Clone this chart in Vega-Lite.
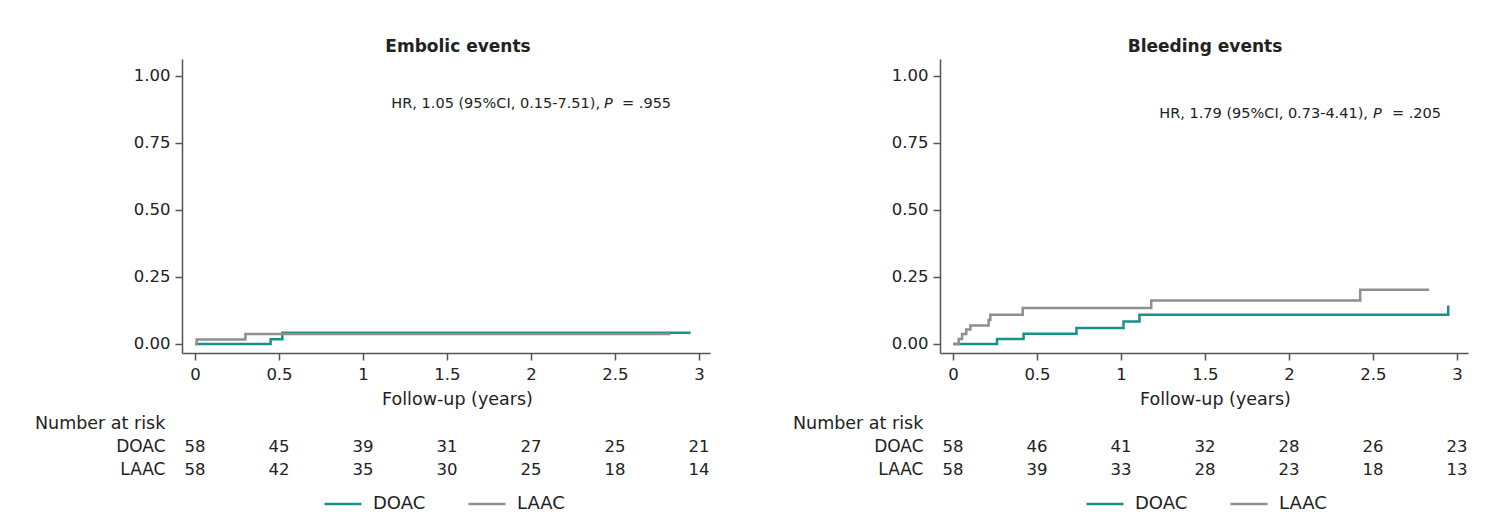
{
  "$schema": "https://vega.github.io/schema/vega-lite/v6.json",
  "padding": {"left": 35, "top": 38, "right": 5, "bottom": 0},
  "config": {
    "font": "DejaVu Sans",
    "view": {"stroke": null},
    "axis": {
      "grid": false,
      "domainColor": "#555555",
      "domainWidth": 1.5,
      "tickColor": "#555555",
      "tickWidth": 1.5,
      "tickSize": 7,
      "labelFont": "DejaVu Sans",
      "labelFontSize": 16.5,
      "labelColor": "#222222",
      "titleFont": "DejaVu Sans",
      "titleFontSize": 17.5,
      "titleFontWeight": "normal",
      "titleColor": "#222222"
    },
    "title": {"font": "DejaVu Sans", "color": "#222222"},
    "text": {"font": "DejaVu Sans", "color": "#222222"}
  },
  "datasets": {
    "km": [
      {"panel": "Embolic events", "group": "DOAC", "time": 0, "risk": 0},
      {"panel": "Embolic events", "group": "DOAC", "time": 0.45, "risk": 0.018},
      {"panel": "Embolic events", "group": "DOAC", "time": 0.52, "risk": 0.042},
      {"panel": "Embolic events", "group": "DOAC", "time": 2.95, "risk": 0.042},
      {"panel": "Embolic events", "group": "LAAC", "time": 0, "risk": 0},
      {"panel": "Embolic events", "group": "LAAC", "time": 0.01, "risk": 0.017},
      {"panel": "Embolic events", "group": "LAAC", "time": 0.3, "risk": 0.037},
      {"panel": "Embolic events", "group": "LAAC", "time": 2.83, "risk": 0.037},
      {"panel": "Bleeding events", "group": "DOAC", "time": 0, "risk": 0},
      {"panel": "Bleeding events", "group": "DOAC", "time": 0.262, "risk": 0.019},
      {"panel": "Bleeding events", "group": "DOAC", "time": 0.42, "risk": 0.038},
      {"panel": "Bleeding events", "group": "DOAC", "time": 0.735, "risk": 0.06},
      {"panel": "Bleeding events", "group": "DOAC", "time": 1.015, "risk": 0.084},
      {"panel": "Bleeding events", "group": "DOAC", "time": 1.11, "risk": 0.109},
      {"panel": "Bleeding events", "group": "DOAC", "time": 2.948, "risk": 0.144},
      {"panel": "Bleeding events", "group": "LAAC", "time": 0, "risk": 0},
      {"panel": "Bleeding events", "group": "LAAC", "time": 0.034, "risk": 0.019},
      {"panel": "Bleeding events", "group": "LAAC", "time": 0.054, "risk": 0.037},
      {"panel": "Bleeding events", "group": "LAAC", "time": 0.079, "risk": 0.054},
      {"panel": "Bleeding events", "group": "LAAC", "time": 0.103, "risk": 0.069},
      {"panel": "Bleeding events", "group": "LAAC", "time": 0.212, "risk": 0.09},
      {"panel": "Bleeding events", "group": "LAAC", "time": 0.222, "risk": 0.109},
      {"panel": "Bleeding events", "group": "LAAC", "time": 0.415, "risk": 0.134},
      {"panel": "Bleeding events", "group": "LAAC", "time": 1.18, "risk": 0.162},
      {"panel": "Bleeding events", "group": "LAAC", "time": 2.424, "risk": 0.202},
      {"panel": "Bleeding events", "group": "LAAC", "time": 2.834, "risk": 0.202}
    ],
    "atrisk": [
      {"panel": "Embolic events", "group": "DOAC", "time": 0, "n": 58},
      {"panel": "Embolic events", "group": "DOAC", "time": 0.5, "n": 45},
      {"panel": "Embolic events", "group": "DOAC", "time": 1, "n": 39},
      {"panel": "Embolic events", "group": "DOAC", "time": 1.5, "n": 31},
      {"panel": "Embolic events", "group": "DOAC", "time": 2, "n": 27},
      {"panel": "Embolic events", "group": "DOAC", "time": 2.5, "n": 25},
      {"panel": "Embolic events", "group": "DOAC", "time": 3, "n": 21},
      {"panel": "Embolic events", "group": "LAAC", "time": 0, "n": 58},
      {"panel": "Embolic events", "group": "LAAC", "time": 0.5, "n": 42},
      {"panel": "Embolic events", "group": "LAAC", "time": 1, "n": 35},
      {"panel": "Embolic events", "group": "LAAC", "time": 1.5, "n": 30},
      {"panel": "Embolic events", "group": "LAAC", "time": 2, "n": 25},
      {"panel": "Embolic events", "group": "LAAC", "time": 2.5, "n": 18},
      {"panel": "Embolic events", "group": "LAAC", "time": 3, "n": 14},
      {"panel": "Bleeding events", "group": "DOAC", "time": 0, "n": 58},
      {"panel": "Bleeding events", "group": "DOAC", "time": 0.5, "n": 46},
      {"panel": "Bleeding events", "group": "DOAC", "time": 1, "n": 41},
      {"panel": "Bleeding events", "group": "DOAC", "time": 1.5, "n": 32},
      {"panel": "Bleeding events", "group": "DOAC", "time": 2, "n": 28},
      {"panel": "Bleeding events", "group": "DOAC", "time": 2.5, "n": 26},
      {"panel": "Bleeding events", "group": "DOAC", "time": 3, "n": 23},
      {"panel": "Bleeding events", "group": "LAAC", "time": 0, "n": 58},
      {"panel": "Bleeding events", "group": "LAAC", "time": 0.5, "n": 39},
      {"panel": "Bleeding events", "group": "LAAC", "time": 1, "n": 33},
      {"panel": "Bleeding events", "group": "LAAC", "time": 1.5, "n": 28},
      {"panel": "Bleeding events", "group": "LAAC", "time": 2, "n": 23},
      {"panel": "Bleeding events", "group": "LAAC", "time": 2.5, "n": 18},
      {"panel": "Bleeding events", "group": "LAAC", "time": 3, "n": 13}
    ]
  },
  "hconcat": [
    {
      "vconcat": [
        {
          "width": 528,
          "height": 294,
          "title": {"text": "Embolic events", "fontSize": 17, "fontWeight": "bold", "anchor": "middle", "frame": "group", "dx": 12, "dy": 20, "offset": 6, "baseline": "bottom"},
          "layer": [
            {
              "data": {"name": "km"},
              "transform": [{"filter": "datum.panel === 'Embolic events'"}],
              "mark": {"type": "line", "interpolate": "step-after", "strokeWidth": 2.5},
              "encoding": {
                "x": {"field": "time", "type": "quantitative", "scale": {"domain": [-0.0774, 3.0655], "nice": false, "zero": false}, "axis": {"values": [0, 0.5, 1, 1.5, 2, 2.5, 3], "format": "~g", "title": "Follow-up (years)", "labelPadding": 6, "titlePadding": 8, "titleX": 275}},
                "y": {"field": "risk", "type": "quantitative", "scale": {"domain": [-0.0336, 1.0634], "nice": false, "zero": false}, "axis": {"values": [0, 0.25, 0.5, 0.75, 1], "format": ".2f", "title": null, "labelPadding": 5}},
                "color": {"field": "group", "type": "nominal", "scale": {"domain": ["DOAC", "LAAC"], "range": ["#17918a", "#8f8f8f"]}, "legend": {"orient": "none", "legendX": 141, "legendY": 425, "direction": "horizontal", "title": null, "symbolType": "stroke", "symbolSize": 1369, "symbolStrokeWidth": 2.5, "labelFontSize": 18, "labelFont": "DejaVu Sans", "labelColor": "#222222", "labelOffset": 10, "columnPadding": 37}}
              }
            },
            {
              "data": {"values": [{}]},
              "mark": {"type": "text", "text": "HR, 1.05 (95%CI, 0.15-7.51),", "align": "right", "baseline": "middle", "fontSize": 14.5},
              "encoding": {"x": {"datum": 2.411}, "y": {"datum": 0.8955}}
            },
            {
              "data": {"values": [{}]},
              "mark": {"type": "text", "text": "P", "align": "left", "baseline": "middle", "fontSize": 14.5, "fontStyle": "italic"},
              "encoding": {"x": {"datum": 2.435}, "y": {"datum": 0.8955}}
            },
            {
              "data": {"values": [{}]},
              "mark": {"type": "text", "text": "= .955", "align": "left", "baseline": "middle", "fontSize": 14.5},
              "encoding": {"x": {"datum": 2.542}, "y": {"datum": 0.8955}}
            }
          ]
        },
        {
          "width": 528,
          "height": 46,
          "title": {"text": "Number at risk", "fontSize": 17.5, "fontWeight": "normal", "anchor": "start", "frame": "group", "dx": -147, "dy": 19, "offset": 4, "baseline": "bottom"},
          "data": {"name": "atrisk"},
          "transform": [{"filter": "datum.panel === 'Embolic events'"}],
          "mark": {"type": "text", "fontSize": 16.5},
          "encoding": {
            "x": {"field": "time", "type": "quantitative", "scale": {"domain": [-0.0774, 3.0655], "nice": false, "zero": false}, "axis": null},
            "y": {"field": "group", "type": "nominal", "sort": ["DOAC", "LAAC"], "axis": {"title": null, "domain": false, "ticks": false, "labelPadding": 17, "labelFontSize": 17}},
            "text": {"field": "n", "type": "quantitative"}
          }
        }
      ],
      "spacing": 82,
      "bounds": "flush"
    },
    {
      "vconcat": [
        {
          "width": 528,
          "height": 294,
          "title": {"text": "Bleeding events", "fontSize": 17, "fontWeight": "bold", "anchor": "middle", "frame": "group", "dx": 1, "dy": 20, "offset": 6, "baseline": "bottom"},
          "layer": [
            {
              "data": {"name": "km"},
              "transform": [{"filter": "datum.panel === 'Bleeding events'"}],
              "mark": {"type": "line", "interpolate": "step-after", "strokeWidth": 2.5},
              "encoding": {
                "x": {"field": "time", "type": "quantitative", "scale": {"domain": [-0.0774, 3.0655], "nice": false, "zero": false}, "axis": {"values": [0, 0.5, 1, 1.5, 2, 2.5, 3], "format": "~g", "title": "Follow-up (years)", "labelPadding": 6, "titlePadding": 8, "titleX": 275}},
                "y": {"field": "risk", "type": "quantitative", "scale": {"domain": [-0.0336, 1.0634], "nice": false, "zero": false}, "axis": {"values": [0, 0.25, 0.5, 0.75, 1], "format": ".2f", "title": null, "labelPadding": 5}},
                "color": {"field": "group", "type": "nominal", "scale": {"domain": ["DOAC", "LAAC"], "range": ["#17918a", "#8f8f8f"]}, "legend": {"orient": "none", "legendX": 145, "legendY": 425, "direction": "horizontal", "title": null, "symbolType": "stroke", "symbolSize": 1369, "symbolStrokeWidth": 2.5, "labelFontSize": 18, "labelFont": "DejaVu Sans", "labelColor": "#222222", "labelOffset": 10, "columnPadding": 37}}
              }
            },
            {
              "data": {"values": [{}]},
              "mark": {"type": "text", "text": "HR, 1.79 (95%CI, 0.73-4.41),", "align": "right", "baseline": "middle", "fontSize": 14.5},
              "encoding": {"x": {"datum": 2.47}, "y": {"datum": 0.858}}
            },
            {
              "data": {"values": [{}]},
              "mark": {"type": "text", "text": "P", "align": "left", "baseline": "middle", "fontSize": 14.5, "fontStyle": "italic"},
              "encoding": {"x": {"datum": 2.5}, "y": {"datum": 0.858}}
            },
            {
              "data": {"values": [{}]},
              "mark": {"type": "text", "text": "= .205", "align": "left", "baseline": "middle", "fontSize": 14.5},
              "encoding": {"x": {"datum": 2.613}, "y": {"datum": 0.858}}
            }
          ]
        },
        {
          "width": 528,
          "height": 46,
          "title": {"text": "Number at risk", "fontSize": 17.5, "fontWeight": "normal", "anchor": "start", "frame": "group", "dx": -147, "dy": 19, "offset": 4, "baseline": "bottom"},
          "data": {"name": "atrisk"},
          "transform": [{"filter": "datum.panel === 'Bleeding events'"}],
          "mark": {"type": "text", "fontSize": 16.5},
          "encoding": {
            "x": {"field": "time", "type": "quantitative", "scale": {"domain": [-0.0774, 3.0655], "nice": false, "zero": false}, "axis": null},
            "y": {"field": "group", "type": "nominal", "sort": ["DOAC", "LAAC"], "axis": {"title": null, "domain": false, "ticks": false, "labelPadding": 17, "labelFontSize": 17}},
            "text": {"field": "n", "type": "quantitative"}
          }
        }
      ],
      "spacing": 82,
      "bounds": "flush"
    }
  ],
  "spacing": 83,
  "bounds": "full",
  "resolve": {"scale": {"color": "independent"}}
}
